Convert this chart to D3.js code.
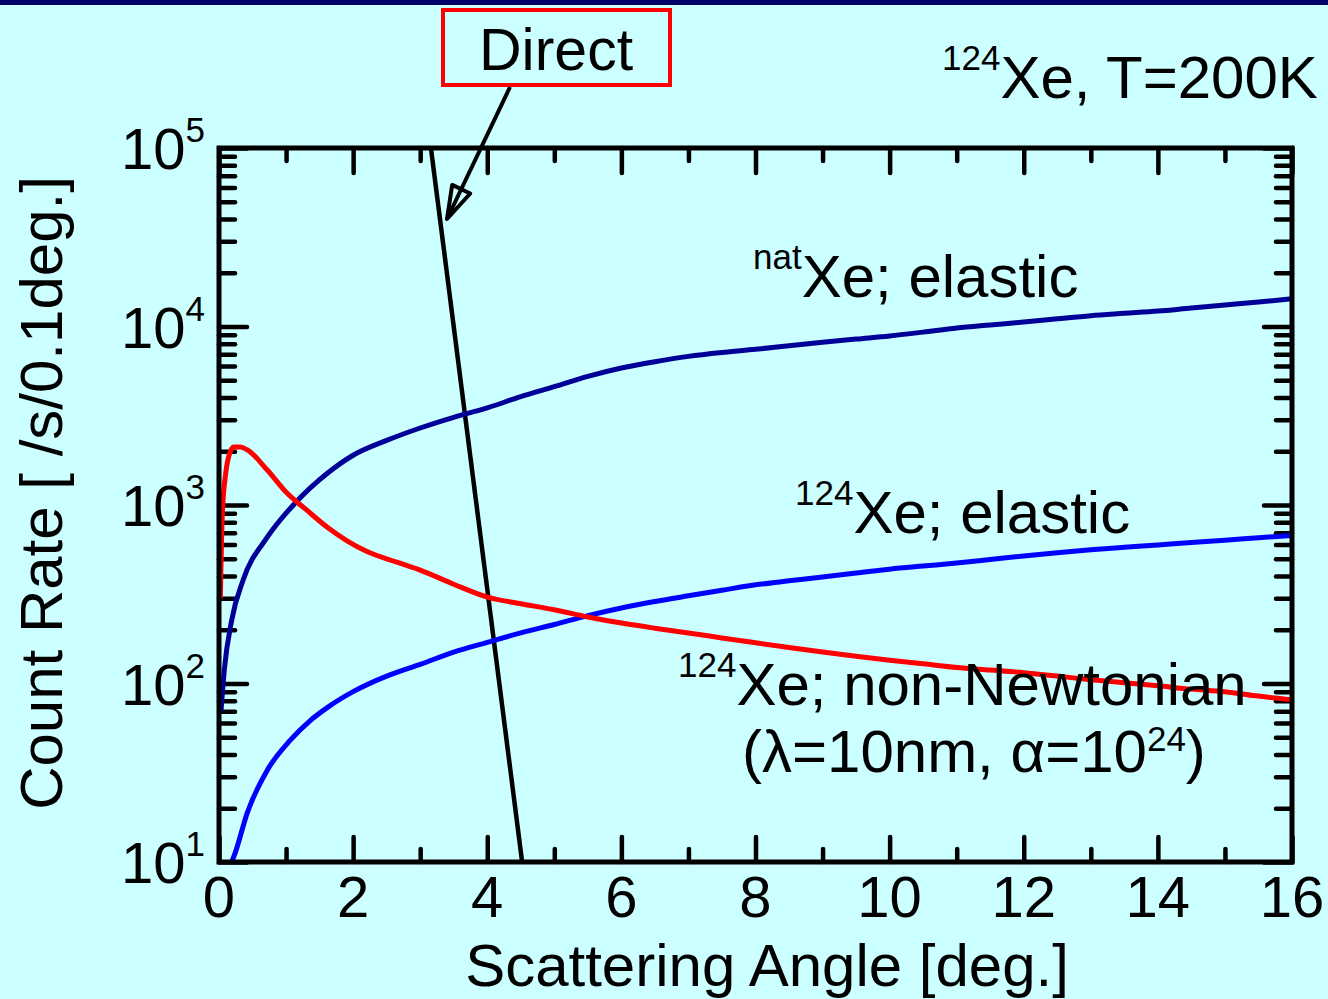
<!DOCTYPE html>
<html>
<head>
<meta charset="utf-8">
<script src="https://cdn.jsdelivr.net/npm/d3@7"></script>
<style>
  html, body { margin: 0; padding: 0; background: #ccffff; }
  svg { display: block; }
  text { font-family: "Liberation Sans", Arial, Helvetica, sans-serif; fill: #000; }
</style>
</head>
<body>
<svg id="chart" width="1328" height="999"></svg>
<script>
// ---------- data ----------
const xMajorTicks = [0, 2, 4, 6, 8, 10, 12, 14, 16];
const xMinorTicks = [1, 3, 5, 7, 9, 11, 13, 15];
const yMajorExponents = [1, 2, 3, 4, 5];

// natXe elastic (angle deg, count rate)
const natXeElastic = [
  [0.03, 70], [0.08, 120], [0.19, 227], [0.36, 380], [0.72, 660], [1.13, 1020],
  [1.63, 1520], [2.0, 1900], [2.5, 2300], [3.0, 2700], [3.5, 3100], [4.0, 3500],
  [4.5, 4050], [5.0, 4600], [5.5, 5250], [6.0, 5850], [6.5, 6350], [7.0, 6800],
  [7.5, 7150], [8.0, 7450], [8.5, 7800], [9.0, 8150], [9.5, 8500], [10.0, 8850],
  [10.5, 9300], [11.0, 9800], [11.5, 10200], [12.0, 10600], [12.5, 11050], [13.0, 11500],
  [13.5, 11850], [14.0, 12200], [14.5, 12700], [15.0, 13200], [15.5, 13700], [16.0, 14300]
];

// 124Xe elastic
const xe124Elastic = [
  [0.19, 10], [0.24, 11.2], [0.42, 18.8], [0.72, 32.7], [1.06, 48], [1.36, 62],
  [1.63, 74], [2.0, 90], [2.5, 110], [3.0, 128], [3.5, 150], [4.0, 170], [4.5, 192],
  [5.0, 214], [5.5, 240], [6.0, 265], [6.5, 288], [7.0, 310], [7.5, 333], [8.0, 357],
  [8.5, 376], [9.0, 395], [9.5, 416], [10.0, 437], [10.5, 455], [11.0, 473],
  [11.5, 495], [12.0, 518], [12.5, 540], [13.0, 561], [13.5, 579], [14.0, 597],
  [14.5, 616], [15.0, 635], [15.5, 655], [16.0, 675]
];

// 124Xe non-Newtonian (lambda = 10 nm, alpha = 1e24)
const xe124NonNewtonian = [
  [0.02, 300], [0.05, 900], [0.1, 1500], [0.15, 1900], [0.22, 2110], [0.32, 2110],
  [0.42, 2040], [0.72, 1570], [1.01, 1170], [1.31, 935], [1.61, 753], [1.91, 630],
  [2.2, 550], [2.65, 478], [3.0, 432], [3.5, 360], [4.0, 305], [4.5, 280], [5.0, 259],
  [5.5, 236], [6.0, 218], [6.5, 204], [7.0, 192], [7.5, 180], [8.0, 169], [8.5, 159],
  [9.0, 150], [9.5, 142], [10.0, 135], [10.5, 129], [11.0, 123], [11.5, 119],
  [12.0, 115], [12.5, 110], [13.0, 105], [13.5, 101], [14.0, 97], [14.5, 93],
  [15.0, 90], [15.5, 85], [16.0, 81]
];

// Direct beam
const directBeam = [[3.16, 1e5], [4.52, 10]];

// ---------- layout ----------
const W = 1328, H = 999;
const pLeft = 219, pRight = 1292, pTop = 148, pBottom = 862;
const FONT = 60, TICKFONT = 58, SUPFONT = 35;

const svg = d3.select("#chart");
svg.append("rect").attr("width", W).attr("height", H).attr("fill", "#ccffff");
svg.append("rect").attr("x", 0).attr("y", 0).attr("width", W).attr("height", 5).attr("fill", "#000066");

const x = d3.scaleLinear().domain([0, 16]).range([pLeft, pRight]);
const y = d3.scaleLog().domain([10, 1e5]).range([pBottom, pTop]);

const yMajor = yMajorExponents.map(e => Math.pow(10, e));
const yMinor = [];
for (let e = 1; e < 5; e++) for (let m = 2; m <= 9; m++) yMinor.push(m * Math.pow(10, e));

// clip
svg.append("defs").append("clipPath").attr("id", "plotclip")
  .append("rect").attr("x", pLeft).attr("y", pTop).attr("width", pRight - pLeft).attr("height", pBottom - pTop);

// ---------- axes (ticks inward) ----------
const TW = 4.5;
function styleAxis(g) {
  g.select(".domain").remove();
  g.selectAll(".tick line").attr("stroke", "#000").attr("stroke-width", TW).attr("stroke-linecap", "round");
  g.selectAll(".tick text").remove();
}
const axesG = svg.append("g");
axesG.append("g").attr("transform", `translate(0,${pBottom})`)
  .call(d3.axisBottom(x).tickValues(xMajorTicks).tickSize(-25).tickFormat("")).call(styleAxis);
axesG.append("g").attr("transform", `translate(0,${pBottom})`)
  .call(d3.axisBottom(x).tickValues(xMinorTicks).tickSize(-13).tickFormat("")).call(styleAxis);
axesG.append("g").attr("transform", `translate(0,${pTop})`)
  .call(d3.axisTop(x).tickValues(xMajorTicks).tickSize(-25).tickFormat("")).call(styleAxis);
axesG.append("g").attr("transform", `translate(0,${pTop})`)
  .call(d3.axisTop(x).tickValues(xMinorTicks).tickSize(-13).tickFormat("")).call(styleAxis);
axesG.append("g").attr("transform", `translate(${pLeft},0)`)
  .call(d3.axisLeft(y).tickValues(yMajor).tickSize(-28).tickFormat("")).call(styleAxis);
axesG.append("g").attr("transform", `translate(${pLeft},0)`)
  .call(d3.axisLeft(y).tickValues(yMinor).tickSize(-16).tickFormat("")).call(styleAxis);
axesG.append("g").attr("transform", `translate(${pRight},0)`)
  .call(d3.axisRight(y).tickValues(yMajor).tickSize(-28).tickFormat("")).call(styleAxis);
axesG.append("g").attr("transform", `translate(${pRight},0)`)
  .call(d3.axisRight(y).tickValues(yMinor).tickSize(-16).tickFormat("")).call(styleAxis);

// ---------- curves ----------
const line = d3.line().x(d => x(d[0])).y(d => y(d[1]));
const smooth = d3.line().curve(d3.curveMonotoneX).x(d => x(d[0])).y(d => y(d[1]));
const curvesG = svg.append("g").attr("clip-path", "url(#plotclip)");
curvesG.append("path").datum(directBeam).attr("d", line)
  .attr("fill", "none").attr("stroke", "#000").attr("stroke-width", 4.5);
curvesG.append("path").datum(xe124Elastic).attr("d", smooth)
  .attr("fill", "none").attr("stroke", "#0000ff").attr("stroke-width", 5).attr("stroke-linejoin", "round");
curvesG.append("path").datum(natXeElastic).attr("d", smooth)
  .attr("fill", "none").attr("stroke", "#000099").attr("stroke-width", 5).attr("stroke-linejoin", "round");
curvesG.append("path").datum(xe124NonNewtonian).attr("d", smooth)
  .attr("fill", "none").attr("stroke", "#ff0000").attr("stroke-width", 5).attr("stroke-linejoin", "round");

// frame
svg.append("rect").attr("x", pLeft).attr("y", pTop).attr("width", pRight - pLeft).attr("height", pBottom - pTop)
  .attr("fill", "none").attr("stroke", "#000").attr("stroke-width", 5);

// ---------- tick labels ----------
svg.append("g").selectAll("text").data(xMajorTicks).join("text")
  .attr("x", d => x(d)).attr("y", pBottom + 55)
  .attr("text-anchor", "middle").attr("font-size", TICKFONT)
  .text(d => d);

const yl = svg.append("g").selectAll("text").data(yMajorExponents).join("text")
  .attr("x", 205).attr("y", d => y(Math.pow(10, d)) + 21)
  .attr("text-anchor", "end").attr("font-size", TICKFONT);
yl.append("tspan").text("10");
yl.append("tspan").attr("font-size", SUPFONT).attr("dy", -27).text(d => d);

// ---------- axis titles ----------
svg.append("text").attr("x", 767).attr("y", 986).attr("text-anchor", "middle")
  .attr("font-size", FONT).text("Scattering Angle [deg.]");
svg.append("text").attr("transform", "translate(62,493) rotate(-90)").attr("text-anchor", "middle")
  .attr("font-size", FONT).text("Count Rate [ /s/0.1deg.]");

// ---------- annotations ----------
function supText(xp, yp, sup, main) {
  const t = svg.append("text").attr("x", xp).attr("y", yp).attr("font-size", FONT);
  t.append("tspan").attr("font-size", SUPFONT).attr("dy", -28).text(sup);
  t.append("tspan").attr("dy", 28).text(main);
  return t;
}
supText(942, 98, "124", "Xe, T=200K");
supText(753, 297, "nat", "Xe; elastic");
supText(795, 533, "124", "Xe; elastic");
supText(678, 705, "124", "Xe; non-Newtonian");
const lam = svg.append("text").attr("x", 742).attr("y", 772).attr("font-size", FONT);
lam.append("tspan").text("(\u03bb=10nm, \u03b1=10");
lam.append("tspan").attr("font-size", SUPFONT).attr("dy", -21).text("24");
lam.append("tspan").attr("dy", 21).text(")");

// Direct box + arrow
svg.append("rect").attr("x", 443).attr("y", 10).attr("width", 227).attr("height", 75)
  .attr("fill", "none").attr("stroke", "#ff0000").attr("stroke-width", 4);
svg.append("text").attr("x", 556).attr("y", 70).attr("text-anchor", "middle")
  .attr("font-size", 59).text("Direct");

const a0 = [510, 87], a1 = [447, 219];
svg.append("line").attr("x1", a0[0]).attr("y1", a0[1]).attr("x2", a1[0]).attr("y2", a1[1])
  .attr("stroke", "#000").attr("stroke-width", 4);
const adx = a1[0] - a0[0], ady = a1[1] - a0[1], alen = Math.hypot(adx, ady);
const ux = adx / alen, uy = ady / alen, qx = -uy, qy = ux;
const hl = 33, hw = 10;
const bx = a1[0] - ux * hl, by = a1[1] - uy * hl;
svg.append("path")
  .attr("d", `M${a1[0]},${a1[1]} L${bx + qx * hw},${by + qy * hw} L${bx - qx * hw},${by - qy * hw} Z`)
  .attr("fill", "none").attr("stroke", "#000").attr("stroke-width", 4).attr("stroke-linejoin", "round");
</script>
</body>
</html>
